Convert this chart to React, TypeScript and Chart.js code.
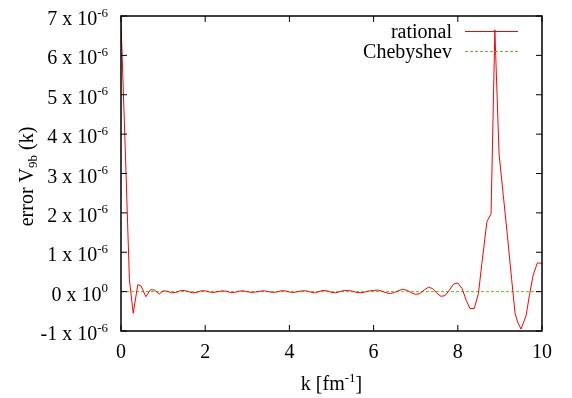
import React, { useEffect, useRef } from 'react';
import { Chart, registerables } from 'chart.js';

Chart.register(...registerables);

// k in fm^-1
const kValues = [
  0, 0.1, 0.2, 0.29, 0.4, 0.48, 0.59, 0.7, 0.79, 0.91,
  1.0, 1.1, 1.2, 1.3, 1.4, 1.5, 1.6, 1.7, 1.8, 1.9,
  2.0, 2.1, 2.2, 2.3, 2.4, 2.5, 2.6, 2.7, 2.8, 2.9,
  3.0, 3.1, 3.2, 3.3, 3.4, 3.5, 3.6, 3.7, 3.8, 3.9,
  4.0, 4.1, 4.2, 4.3, 4.4, 4.5, 4.6, 4.7, 4.8, 4.9,
  5.0, 5.1, 5.2, 5.3, 5.4, 5.5, 5.6, 5.7, 5.8, 5.9,
  6.0, 6.1, 6.2, 6.3, 6.4, 6.5, 6.6, 6.7, 6.8, 6.9,
  7.0, 7.1, 7.2, 7.3, 7.4, 7.5, 7.6, 7.7, 7.8, 7.9,
  8.0, 8.1, 8.2, 8.29, 8.39, 8.49, 8.57, 8.69, 8.79, 8.88,
  8.98, 9.08, 9.18, 9.28, 9.36, 9.42, 9.5, 9.62, 9.7, 9.79,
  9.89, 10.0,
];

// rational error, in units of 10^-6
const rationalError = [
  6.85, 3.65, 0.3, -0.55, 0.18, 0.14, -0.13, 0.05, 0.04, -0.06,
  0.02, 0.01, -0.03, -0.02, 0.02, 0.03, 0.0, -0.03, -0.02, 0.02,
  0.02, -0.01, -0.02, 0.0, 0.02, 0.01, -0.02, -0.02, 0.01, 0.02,
  0.0, -0.02, -0.01, 0.01, 0.02, 0.0, -0.02, -0.01, 0.02, 0.02,
  -0.01, -0.02, 0.0, 0.02, 0.02, -0.01, -0.03, 0.0, 0.03, 0.02,
  -0.02, -0.03, 0.0, 0.03, 0.03, 0.01, -0.02, -0.03, -0.01, 0.02,
  0.03, 0.04, 0.01, -0.03, -0.05, -0.02, 0.03, 0.06, 0.03, -0.03,
  -0.07, -0.05, 0.04, 0.11, 0.08, -0.04, -0.12, -0.1, 0.04, 0.19,
  0.22, 0.08, -0.22, -0.43, -0.43, -0.05, 0.7, 1.77, 1.98, 6.65,
  3.5, 2.45, 1.4, 0.3, -0.55, -0.77, -0.95, -0.62, -0.1, 0.42,
  0.73, 0.72,
];

// Chebyshev error, in units of 10^-6
const chebyshevK = [0, 10];
const chebyshevError = [0, 0];

const xTicks = [0, 2, 4, 6, 8, 10];
const yTicks = [-1, 0, 1, 2, 3, 4, 5, 6, 7];

const seriesLabels = ['rational', 'Chebyshev'];
const seriesColors = ['#ff0000', '#5cbf2a'];
const seriesDashes: number[][] = [[], [3, 2]];

const FONT = '"Liberation Serif", "Times New Roman", serif';
const MAIN = `20px ${FONT}`;
const SMALL = `13px ${FONT}`;

const decorPlugin = {
  id: 'gnuplotDecor',
  afterDatasetsDraw(chart: any) {
    const ctx: CanvasRenderingContext2D = chart.ctx;
    const a = chart.chartArea;
    const xs = chart.scales.x;
    const ys = chart.scales.y;
    ctx.save();
    ctx.globalAlpha = 1;
    ctx.strokeStyle = '#000';
    ctx.fillStyle = '#000';

    const seg = (color: string, x1: number, y1: number, x2: number, y2: number) => {
      ctx.strokeStyle = color;
      ctx.beginPath();
      ctx.moveTo(x1, y1);
      ctx.lineTo(x2, y2);
      ctx.stroke();
    };

    // ticks (inward, mirrored)
    ctx.lineWidth = 1;
    const tl = 6;
    yTicks.forEach((v) => {
      const y = ys.getPixelForValue(v);
      seg('#000', a.left, y, a.left + tl, y);
      seg('#000', a.right - tl, y, a.right, y);
    });
    xTicks.forEach((v) => {
      const x = xs.getPixelForValue(v);
      seg('#000', x, a.bottom, x, a.bottom - tl);
      seg('#000', x, a.top, x, a.top + tl);
    });

    // border
    ctx.strokeStyle = '#000';
    ctx.lineWidth = 1.5;
    ctx.strokeRect(a.left, a.top, a.right - a.left, a.bottom - a.top);

    // y tick labels
    ctx.textBaseline = 'alphabetic';
    yTicks.forEach((v) => {
      const y = ys.getPixelForValue(v);
      const sup = v === 0 ? '0' : '-6';
      const main = `${v} x 10`;
      ctx.font = SMALL;
      const sw = ctx.measureText(sup).width;
      const right = a.left - 13;
      ctx.textAlign = 'left';
      ctx.fillText(sup, right - sw, y + 0.5);
      ctx.font = MAIN;
      ctx.textAlign = 'right';
      ctx.fillText(main, right - sw, y + 9);
    });

    // x tick labels
    ctx.font = MAIN;
    ctx.textAlign = 'center';
    xTicks.forEach((v) => {
      const x = xs.getPixelForValue(v);
      ctx.fillText(String(v), x, a.bottom + 27);
    });

    // x title: k [fm^-1]
    {
      const p1 = 'k [fm';
      const p2 = '-1';
      const p3 = ']';
      ctx.font = MAIN;
      const w1 = ctx.measureText(p1).width;
      const w3 = ctx.measureText(p3).width;
      ctx.font = SMALL;
      const w2 = ctx.measureText(p2).width;
      const total = w1 + w2 + w3;
      const cx = (a.left + a.right) / 2;
      let x = cx - total / 2;
      const base = a.bottom + 59;
      ctx.textAlign = 'left';
      ctx.font = MAIN;
      ctx.fillText(p1, x, base);
      x += w1;
      ctx.font = SMALL;
      ctx.fillText(p2, x, base - 8);
      x += w2;
      ctx.font = MAIN;
      ctx.fillText(p3, x, base);
    }

    // y title: error V_9b (k)
    {
      const p1 = 'error V';
      const p2 = '9b';
      const p3 = ' (k)';
      ctx.font = MAIN;
      const w1 = ctx.measureText(p1).width;
      const w3 = ctx.measureText(p3).width;
      ctx.font = SMALL;
      const w2 = ctx.measureText(p2).width;
      const total = w1 + w2 + w3;
      ctx.save();
      ctx.translate(33, (a.top + a.bottom) / 2 + 3);
      ctx.rotate(-Math.PI / 2);
      let x = -total / 2;
      ctx.textAlign = 'left';
      ctx.font = MAIN;
      ctx.fillText(p1, x, 0);
      x += w1;
      ctx.font = SMALL;
      ctx.fillText(p2, x, 4);
      x += w2;
      ctx.font = MAIN;
      ctx.fillText(p3, x, 0);
      ctx.restore();
    }

    // legend (gnuplot style: text right-aligned, sample on right)
    const legendRows = [31.5, 51.5];
    seriesLabels.forEach((label, i) => {
      const y = legendRows[i];
      ctx.font = MAIN;
      ctx.textAlign = 'right';
      ctx.fillStyle = '#000';
      ctx.fillText(label, 452, y + 6.5);
      ctx.lineWidth = 1;
      ctx.setLineDash(seriesDashes[i]);
      seg(seriesColors[i], 465, y, 518, y);
      ctx.setLineDash([]);
    });

    ctx.restore();
  },
};

export default function App() {
  const canvasRef = useRef<HTMLCanvasElement | null>(null);

  useEffect(() => {
    document.body.style.margin = '0';
    const canvas = canvasRef.current;
    if (!canvas) return;
    const chart = new Chart(canvas, {
      type: 'line',
      data: {
        datasets: [
          {
            label: seriesLabels[0],
            data: kValues.map((k, i) => ({ x: k, y: rationalError[i] })),
            borderColor: seriesColors[0],
            borderWidth: 1,
            borderDash: seriesDashes[0],
            pointRadius: 0,
            tension: 0,
            fill: false,
          },
          {
            label: seriesLabels[1],
            data: chebyshevK.map((k, i) => ({ x: k, y: chebyshevError[i] })),
            borderColor: seriesColors[1],
            borderWidth: 1,
            borderDash: seriesDashes[1],
            pointRadius: 0,
            tension: 0,
            fill: false,
          },
        ],
      },
      options: {
        animation: false,
        responsive: false,
        devicePixelRatio: 1,
        layout: { padding: { left: 121, right: 30, top: 16, bottom: 67 } },
        scales: {
          x: {
            type: 'linear',
            display: false,
            min: 0,
            max: 10,
            ticks: { stepSize: 2 },
          },
          y: {
            type: 'linear',
            display: false,
            min: -1,
            max: 7,
            ticks: { stepSize: 1 },
          },
        },
        plugins: {
          legend: { display: false },
          tooltip: { enabled: false },
        },
        events: [],
      },
      plugins: [decorPlugin],
    });
    return () => chart.destroy();
  }, []);

  return (
    <div style={{ position: 'fixed', left: 0, top: 0, width: 572, height: 398, background: '#fff' }}>
      <canvas ref={canvasRef} width={572} height={398} style={{ display: 'block' }} />
    </div>
  );
}
